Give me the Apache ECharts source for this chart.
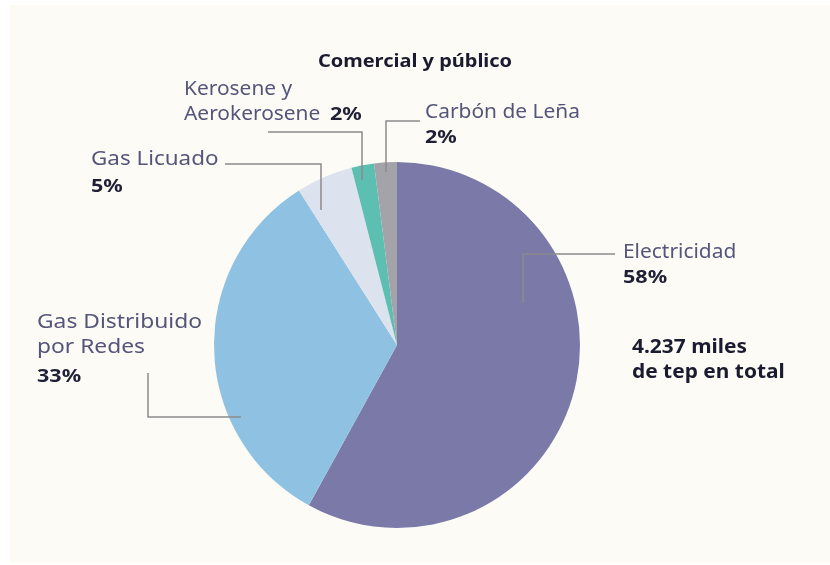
<!DOCTYPE html>
<html><head><meta charset="utf-8">
<script src="https://cdn.jsdelivr.net/npm/echarts@6/dist/echarts.min.js"></script>
<style>html,body{margin:0;padding:0;background:#fff}#c{width:830px;height:565px}</style>
</head><body><div id="c"></div>
<script>
const title = 'Comercial y público';
const categories = ['Electricidad', 'Gas Distribuido por Redes', 'Gas Licuado', 'Kerosene y Aerokerosene', 'Carbón de Leña'];
const values = [58, 33, 5, 2, 2];
const colors = ['#7a79a8', '#8fc2e2', '#dce2ee', '#5dbfb1', '#a3a3a9'];
const totalNote = ['4.237 miles', 'de tep en total'];

const chart = echarts.init(document.getElementById('c'), null, {renderer: 'canvas'});
const sum = values.reduce((a, b) => a + b, 0);
const pct = values.map(v => Math.round(v / sum * 100) + '%');

const F = '"Noto Sans", sans-serif';
const nameStyle = {fill: '#55557a', font: '19px ' + F, sx: 1.1};
const wideName = Object.assign({}, nameStyle, {sx: 1.2});
const pctStyle = {fill: '#1f1f35', font: 'bold 17px ' + F, sx: 1.27};
const boldStyle = {fill: '#1b1b2f', font: 'bold 19px ' + F, sx: 1.1};
const lineStyle = {stroke: '#8c8c8c', lineWidth: 1.5, fill: null};

function txt(x, y, s, st) {
  const style = Object.assign({text: s, verticalAlign: 'middle', textVerticalAlign: 'middle'}, st);
  const sx = style.sx || 1; delete style.sx;
  return {type: 'text', x: x, y: y, scaleX: sx, silent: true, style: style};
}
function line(pts) {
  return {type: 'polyline', silent: true, shape: {points: pts}, style: lineStyle, z: 10};
}

const graphics = [
  {type: 'rect', shape: {x: 10, y: 5, width: 820, height: 558}, style: {fill: '#fcfbf6'}, z: -10, silent: true},
  txt(415, 62, title, {fill: '#1b1b2f', font: 'bold 18px ' + F, align: 'center', textAlign: 'center', sx: 1.11}),
  // Kerosene
  txt(184, 90, 'Kerosene y', nameStyle),
  txt(184, 115, 'Aerokerosene', nameStyle),
  txt(330, 115, pct[3], pctStyle),
  line([[268, 132], [362, 132], [362, 180]]),
  // Carbón
  txt(425, 113, categories[4], nameStyle),
  txt(425, 138, pct[4], pctStyle),
  line([[420, 121], [386, 121], [386, 172]]),
  // Gas Licuado
  txt(91, 160, categories[2], Object.assign({}, nameStyle, {sx: 1.18})),
  txt(91, 187, pct[2], pctStyle),
  line([[225, 164], [321, 164], [321, 210]]),
  // Gas Distribuido
  txt(37, 323, 'Gas Distribuido', wideName),
  txt(37, 348, 'por Redes', wideName),
  txt(37, 377, pct[1], pctStyle),
  line([[148, 373], [148, 417], [241, 417]]),
  // Electricidad
  txt(623, 253, categories[0], nameStyle),
  txt(623, 278, pct[0], pctStyle),
  line([[615, 254], [523, 254], [523, 303]]),
  // total
  txt(632, 348, totalNote[0], boldStyle),
  txt(632, 373, totalNote[1], boldStyle)
];

chart.setOption({
  animation: false,
  backgroundColor: '#ffffff',
  graphic: graphics,
  series: [{
    type: 'pie',
    center: [397, 345],
    radius: [0, 183],
    startAngle: 90,
    clockwise: true,
    silent: true,
    label: {show: false},
    labelLine: {show: false},
    itemStyle: {borderWidth: 0},
    data: categories.map((c, i) => ({name: c, value: values[i], itemStyle: {color: colors[i]}}))
  }]
});
</script></body></html>
